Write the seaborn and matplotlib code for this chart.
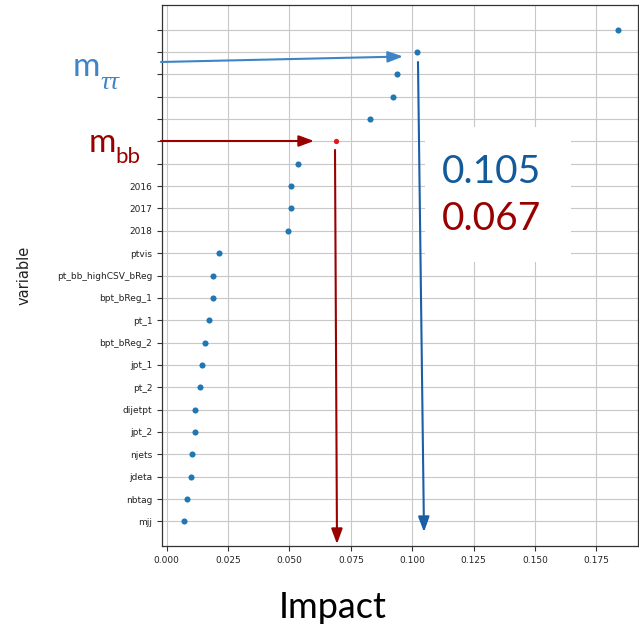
import matplotlib
matplotlib.use("Agg")
import matplotlib.pyplot as plt
from matplotlib.patches import Rectangle, FancyArrowPatch
from matplotlib.transforms import IdentityTransform
import seaborn as sns
import pandas as pd

# ---- data -------------------------------------------------------------
variables = ["v_top", "m_tautau", "v_3", "v_4", "v_5", "m_bb", "v_7",
             "2016", "2017", "2018", "ptvis", "pt_bb_highCSV_bReg",
             "bpt_bReg_1", "pt_1", "bpt_bReg_2", "jpt_1", "pt_2", "dijetpt",
             "jpt_2", "njets", "jdeta", "nbtag", "mjj"]
tick_labels = ["", "", "", "", "", "", "",
               "2016", "2017", "2018", "ptvis", "pt_bb_highCSV_bReg",
               "bpt_bReg_1", "pt_1", "bpt_bReg_2", "jpt_1", "pt_2", "dijetpt",
               "jpt_2", "njets", "jdeta", "nbtag", "mjj"]
impact = [0.1836, 0.1020, 0.0939, 0.0920, 0.0829, 0.0688, 0.0535,
          0.0508, 0.0508, 0.0493, 0.0215, 0.0187, 0.0187, 0.0172,
          0.0156, 0.0145, 0.0137, 0.0115, 0.0115, 0.0102, 0.0098,
          0.0083, 0.0069]
highlight = ["no"] * 5 + ["yes"] + ["no"] * 17
x_ticks = [0, 0.025, 0.05, 0.075, 0.1, 0.125, 0.15, 0.175]
x_tick_labels = ["0.000", "0.025", "0.050", "0.075", "0.100", "0.125", "0.150", "0.175"]
mtt_value = "0.105"
mbb_value = "0.067"

df = pd.DataFrame({"variable": variables, "Impact": impact, "hl": highlight})

W, H = 639, 626
fig = plt.figure(figsize=(W / 100, H / 100), dpi=100)
ax = fig.add_axes([162 / W, (H - 546) / H, (638 - 162) / W, (546 - 5) / H])

sns.stripplot(data=df[df.hl == "no"], x="Impact", y="variable", order=variables,
              jitter=False, color="#1f77b4", size=4.4, linewidth=0, ax=ax, zorder=3)
sns.stripplot(data=df[df.hl == "yes"], x="Impact", y="variable", order=variables,
              jitter=False, color="#e4161d", size=3.8, linewidth=0, ax=ax, zorder=3)

n = len(variables)
ax.set_ylim(n - 1 + 1.1, -1.1)
ax.set_xlim(-0.0019, 0.1919)
ax.set_xticks(x_ticks)
ax.set_xticklabels(x_tick_labels)
ax.set_yticks(range(n))
ax.set_yticklabels(tick_labels)
ax.tick_params(axis="both", labelsize=6.5, colors="#333333", labelcolor="#222222")
ax.grid(True, color="#c8c8c8", linewidth=0.8)
ax.set_axisbelow(True)
for s in ax.spines.values():
    s.set_color("#333333")
    s.set_linewidth(0.9)
ax.set_xlabel("")
ax.set_ylabel("variable", fontsize=10.5, color="#222222")
ax.yaxis.set_label_coords((32 - 162) / 476, 0.5)
if ax.get_legend():
    ax.get_legend().remove()

ident = IdentityTransform()

def py(y):
    return H - y

# white box behind numbers
fig.add_artist(Rectangle((425, py(262)), 146, 135, transform=ident,
                         facecolor="white", edgecolor="none", zorder=5))

def arrow(p0, p1, color, lw):
    a = FancyArrowPatch((p0[0], py(p0[1])), (p1[0], py(p1[1])), transform=ident,
                        arrowstyle="-|>,head_length=6.5,head_width=2.4", mutation_scale=1.4,
                        color=color, linewidth=lw, zorder=6, shrinkA=0, shrinkB=0)
    fig.add_artist(a)

arrow((161, 62), (403, 56.5), "#3d85c6", 1.5)
arrow((418, 62), (424, 532), "#1a5ea8", 1.5)
arrow((161, 141), (314, 141), "#990000", 1.5)
arrow((335, 150), (337, 544), "#990000", 1.5)

fig.text(73, py(76), "m", transform=ident, fontfamily="Lato", fontsize=24,
         color="#3d85c6", ha="left", va="baseline")
fig.text(100, py(89), "ττ", transform=ident, fontfamily="Liberation Serif",
         fontstyle="italic", fontsize=19, color="#3d85c6", ha="left", va="baseline")
fig.text(89, py(152), "m", transform=ident, fontfamily="Lato", fontsize=24,
         color="#990000", ha="left", va="baseline")
fig.text(115, py(163), "bb", transform=ident, fontfamily="Lato", fontsize=16,
         color="#990000", ha="left", va="baseline")

fig.text(442, py(183), mtt_value, transform=ident, fontfamily="Lato", fontsize=28,
         color="#135a9a", ha="left", va="baseline", zorder=7)
fig.text(442, py(230), mbb_value, transform=ident, fontfamily="Lato", fontsize=28,
         color="#990000", ha="left", va="baseline", zorder=7)

fig.text(333, py(618), "Impact", transform=ident, fontfamily="Lato", fontsize=26,
         color="black", ha="center", va="baseline")

fig.savefig("out.png", dpi=100, facecolor="white")
